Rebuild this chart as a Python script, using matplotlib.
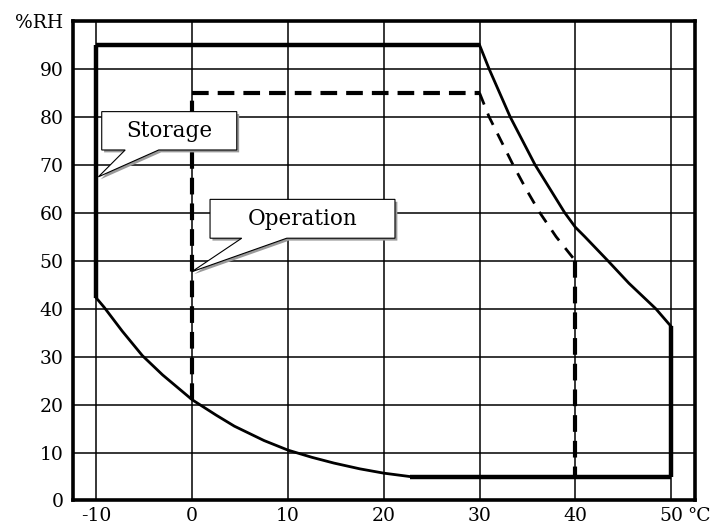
import numpy as np
import matplotlib
matplotlib.use('Agg')
import matplotlib.pyplot as plt
from matplotlib.patches import Polygon

plt.rcParams['font.family'] = ['DejaVu Serif']
plt.rcParams['lines.scale_dashes'] = False
plt.rcParams['axes.unicode_minus'] = False

# storage range (solid)
stor_left_t = [-10, -10]
stor_left_rh = [42.2, 95]
stor_top_t = [-10, 30]
stor_top_rh = [95, 95]
stor_hot_t = [30, 31.0, 33.2, 35.8, 38.9, 40, 41.0, 43.4, 45.6, 48.4, 50]
stor_hot_rh = [95, 90, 80, 70, 60, 57, 55, 50, 45.3, 40, 36.3]
stor_right_t = [50, 50]
stor_right_rh = [36.3, 5]
stor_bottom_t = [50, 22.7]
stor_bottom_rh = [5, 5]
stor_cold_t = [22.7, 20, 17.5, 14.8, 12.5, 10, 7.5, 4.4, 2.5, 0, -3.1, -5.2, -7.3, -9.2, -10]
stor_cold_rh = [5.0, 5.7, 6.6, 7.8, 9.0, 10.5, 12.5, 15.5, 17.8, 21.0, 26.2, 30.2, 35.3, 40.3, 42.2]

# operation range (dashed)
oper_left_t = [0, 0]
oper_left_rh = [21.0, 85]
oper_top_t = [0, 30]
oper_top_rh = [85, 85]
oper_hot_t = [30, 31.0, 33.5, 34.9, 36.3, 38.0, 40]
oper_hot_rh = [85, 80, 70, 64.8, 60, 55, 50]
oper_right_t = [40, 40]
oper_right_rh = [50, 5]

xticks = [-10, 0, 10, 20, 30, 40, 50]
yticks = [0, 10, 20, 30, 40, 50, 60, 70, 80, 90, 100]
ytick_labels = ['0', '10', '20', '30', '40', '50', '60', '70', '80', '90', '%RH']

fig = plt.figure(figsize=(7.23, 5.29), dpi=100)
ax = fig.add_axes([0.1003, 0.0539, 0.861, 0.9064])
ax.set_xlim(-12.5, 52.5)
ax.set_ylim(0, 100)

for x in xticks:
    ax.axvline(x, color='black', lw=1.1, zorder=1)
for y in yticks[1:-1]:
    ax.axhline(y, color='black', lw=1.1, zorder=1)

ax.set_xticks(xticks)
ax.set_yticks(yticks)
ax.set_yticklabels(ytick_labels)
ax.tick_params(length=0, labelsize=13.5)
ax.tick_params(axis='y', pad=6.6)
ax.tick_params(axis='x', pad=5.0)
for s in ax.spines.values():
    s.set_linewidth(2.6)
ax.annotate('°C', xy=(50, 0), xycoords=('data', 'axes fraction'),
            xytext=(11.5, -5.0), textcoords='offset points',
            ha='left', va='top', fontsize=13.5)

thick = 3.2
thin = 2.0
for t, rh in [(stor_left_t, stor_left_rh), (stor_top_t, stor_top_rh),
              (stor_right_t, stor_right_rh), (stor_bottom_t, stor_bottom_rh)]:
    ax.plot(t, rh, color='black', lw=thick, solid_capstyle='butt', zorder=3)
for t, rh in [(stor_hot_t, stor_hot_rh), (stor_cold_t, stor_cold_rh)]:
    ax.plot(t, rh, color='black', lw=thin, solid_joinstyle='round', zorder=3)

for t, rh in [(oper_left_t, oper_left_rh), (oper_top_t, oper_top_rh),
              (oper_right_t, oper_right_rh)]:
    ax.plot(t, rh, color='black', lw=3.0, dashes=(12, 6.5), dash_capstyle='butt', zorder=3)
ax.plot(oper_hot_t, oper_hot_rh, color='black', lw=2.0, dashes=(9, 7), zorder=3)


def callout(text, x0, x1, y0, y1, b0, b1, tip):
    pts = [(x0, y1), (x1, y1), (x1, y0), (b1, y0), tip, (b0, y0), (x0, y0)]
    sh = [(px + 0.25, py - 0.5) for px, py in pts]
    ax.add_patch(Polygon(sh, closed=True, facecolor='#9a9a9a', edgecolor='none', zorder=4))
    ax.add_patch(Polygon(pts, closed=True, facecolor='white', edgecolor='black', lw=0.8, zorder=5))
    ax.text((x0 + x1) / 2, (y0 + y1) / 2, text, ha='center', va='center', fontsize=15.5, zorder=6)


callout('Storage', -9.45, 4.65, 73.1, 81.1, -7.0, -3.5, (-9.8, 67.5))
callout('Operation', 1.86, 21.17, 54.7, 62.8, 5.17, 9.87, (-0.05, 47.7))

fig.savefig('out.png', dpi=100)
